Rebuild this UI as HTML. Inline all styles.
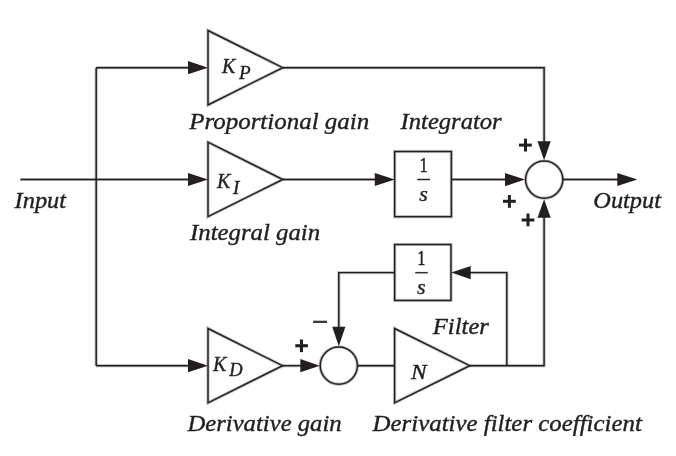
<!DOCTYPE html>
<html><head><meta charset="utf-8">
<style>
html,body{margin:0;padding:0;background:#fff;width:676px;height:456px;overflow:hidden}
svg{display:block}
text{font-family:"Liberation Serif",serif;font-style:italic;fill:#231f20;stroke:#231f20;stroke-width:0.4;will-change:transform}
</style></head>
<body>
<svg width="676" height="456" viewBox="0 0 676 456">
<g fill="none" stroke="#231f20" stroke-width="3.2" stroke-opacity="0.28" stroke-linejoin="miter" stroke-linecap="butt">
  <path d="M20.4 179.5 H190"/>
  <path d="M96.2 67.7 V365.7"/>
  <path d="M96.2 67.7 H190"/>
  <path d="M96.2 365.7 H190"/>
  <path d="M208 30.5 L282.8 67.7 L208 105 Z"/>
  <path d="M208 142.2 L282.8 179.5 L208 216.6 Z"/>
  <path d="M208 328.5 L282.6 365.7 L208 402.8 Z"/>
  <path d="M394.6 328.5 L469.8 365.7 L394.6 402.8 Z"/>
  <path d="M282.8 67.7 H544.1 V142"/>
  <path d="M282.8 179.5 H377"/>
  <rect x="394.65" y="151.5" width="56.7" height="65.2"/>
  <path d="M451.1 179.5 H507"/>
  <circle cx="544.2" cy="179.6" r="18.6"/>
  <path d="M562.8 179.5 H619"/>
  <path d="M282.6 365.7 H302"/>
  <circle cx="338.8" cy="365.6" r="18.6"/>
  <path d="M357.4 365.7 H394.6"/>
  <path d="M469.8 365.7 H544.1 V216"/>
  <path d="M506.8 365.7 V272.6 H469"/>
  <rect x="394.65" y="244.5" width="56.35" height="55.95"/>
  <path d="M394.8 272.6 H338.8 V328"/>
  <path d="M417.3 179.5 H430.1" stroke-width="2"/>
  <path d="M415.3 272.7 H427.7" stroke-width="2"/>
</g>
<g fill="none" stroke="#231f20" stroke-width="1.45" stroke-linejoin="miter" stroke-linecap="butt">
  <path d="M20.4 179.5 H190"/>
  <path d="M96.2 67.7 V365.7"/>
  <path d="M96.2 67.7 H190"/>
  <path d="M96.2 365.7 H190"/>
  <path d="M208 30.5 L282.8 67.7 L208 105 Z"/>
  <path d="M208 142.2 L282.8 179.5 L208 216.6 Z"/>
  <path d="M208 328.5 L282.6 365.7 L208 402.8 Z"/>
  <path d="M394.6 328.5 L469.8 365.7 L394.6 402.8 Z"/>
  <path d="M282.8 67.7 H544.1 V142"/>
  <path d="M282.8 179.5 H377"/>
  <rect x="394.65" y="151.5" width="56.7" height="65.2"/>
  <path d="M451.1 179.5 H507"/>
  <circle cx="544.2" cy="179.6" r="18.6"/>
  <path d="M562.8 179.5 H619"/>
  <path d="M282.6 365.7 H302"/>
  <circle cx="338.8" cy="365.6" r="18.6"/>
  <path d="M357.4 365.7 H394.6"/>
  <path d="M469.8 365.7 H544.1 V216"/>
  <path d="M506.8 365.7 V272.6 H469"/>
  <rect x="394.65" y="244.5" width="56.35" height="55.95"/>
  <path d="M394.8 272.6 H338.8 V328"/>
  <path d="M417.3 179.5 H430.1" stroke-width="1.2"/>
  <path d="M415.3 272.7 H427.7" stroke-width="1.2"/>
</g>
<g fill="#231f20" stroke="none">
  <path d="M188.0 61.1 L208.0 67.7 L188.0 74.3 Z"/>
  <path d="M188.0 172.9 L208.0 179.5 L188.0 186.1 Z"/>
  <path d="M188.0 359.1 L208.0 365.7 L188.0 372.3 Z"/>
  <path d="M374.8 172.9 L394.8 179.5 L374.8 186.1 Z"/>
  <path d="M505.0 173.0 L525.0 179.6 L505.0 186.2 Z"/>
  <path d="M617.3 172.9 L637.3 179.5 L617.3 186.1 Z"/>
  <path d="M537.5 141.2 L544.1 160.2 L550.7 141.2 Z"/>
  <path d="M537.5 217.7 L544.1 199.2 L550.7 217.7 Z"/>
  <path d="M300.3 359.1 L319.8 365.7 L300.3 372.3 Z"/>
  <path d="M332.2 326.7 L338.8 346.2 L345.4 326.7 Z"/>
  <path d="M470.7 266.0 L451.2 272.6 L470.7 279.2 Z"/>
  <rect x="519" y="143.6" width="12.8" height="3"/><rect x="524" y="138.7" width="3" height="12.8"/>
  <rect x="503" y="199.8" width="12.8" height="3"/><rect x="507.9" y="195" width="3" height="12.8"/>
  <rect x="521.6" y="218.5" width="12.8" height="3"/><rect x="526.5" y="213.5" width="3" height="12.8"/>
  <rect x="295.3" y="344.2" width="12.6" height="3.1"/><rect x="299.9" y="339.5" width="3.1" height="12.6"/>
  <rect x="313.1" y="320.7" width="14" height="2.3" fill="#3d393a"/>
</g>
<text x="189.2" y="128.6" font-size="24" textLength="179.97" lengthAdjust="spacingAndGlyphs">Proportional gain</text>
<text x="400.62" y="128.6" font-size="24" textLength="101.04" lengthAdjust="spacingAndGlyphs">Integrator</text>
<text x="14.61" y="207.8" font-size="24" textLength="51.45" lengthAdjust="spacingAndGlyphs">Input</text>
<text x="593.39" y="208.2" font-size="24" textLength="67.57" lengthAdjust="spacingAndGlyphs">Output</text>
<text x="190.02" y="240.0" font-size="24" textLength="130.1" lengthAdjust="spacingAndGlyphs">Integral gain</text>
<text x="432.81" y="333.5" font-size="24" textLength="56.15" lengthAdjust="spacingAndGlyphs">Filter</text>
<text x="187.42" y="430.9" font-size="24" textLength="154.25" lengthAdjust="spacingAndGlyphs">Derivative gain</text>
<text x="372.63" y="430.6" font-size="24" textLength="269.17" lengthAdjust="spacingAndGlyphs">Derivative filter coefficient</text>
<!-- gains -->
<text x="222" y="72.9" font-size="20">K</text><text x="239" y="78.6" font-size="19">P</text>
<text x="217" y="187.8" font-size="20">K</text><text x="233" y="193.5" font-size="19">I</text>
<text x="213" y="370.7" font-size="20">K</text><text x="229.2" y="376.4" font-size="18.5">D</text>
<text x="411" y="378.6" font-size="20.5" textLength="15.6" lengthAdjust="spacingAndGlyphs">N</text>
<!-- fractions -->
<text x="419.8" y="171.9" font-size="21" textLength="7.8" lengthAdjust="spacingAndGlyphs" style="font-style:normal;stroke-width:0.6">1</text>
<text x="419.3" y="201.3" font-size="22">s</text>
<text x="417.5" y="265" font-size="21" textLength="7.8" lengthAdjust="spacingAndGlyphs" style="font-style:normal;stroke-width:0.6">1</text>
<text x="417" y="294.2" font-size="22">s</text>
</svg>
</body></html>
